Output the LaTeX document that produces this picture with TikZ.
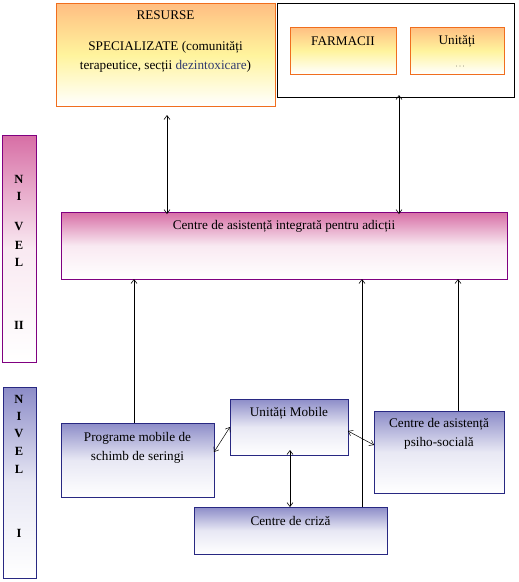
\documentclass[tikz,border=0pt]{standalone}
\usepackage{fontspec}
\setmainfont{Liberation Serif}
\usetikzlibrary{arrows.meta,calc}
\definecolor{oborder}{RGB}{240,110,30}
\definecolor{otop}{RGB}{255,190,130}
\definecolor{pborder}{RGB}{128,0,128}
\definecolor{ptop}{RGB}{215,110,165}
\definecolor{bborder}{RGB}{40,40,130}
\definecolor{btop}{RGB}{140,140,200}
\definecolor{dblue}{RGB}{50,60,110}
\begin{document}
\begin{tikzpicture}[x=1pt,y=-1pt,
  every node/.style={inner sep=0pt,outer sep=0pt},
  obox/.style={draw=oborder,line width=1pt,top color=otop,bottom color=white,middle color=white!75!otop!70!yellow,rectangle},
  pbox/.style={draw=pborder,line width=1pt,top color=ptop,bottom color=white,middle color=white!85!ptop,rectangle},
  bbox/.style={draw=bborder,line width=0.8pt,top color=btop,bottom color=white,middle color=white!80!btop,rectangle},
  kbox/.style={draw=black,line width=1pt,fill=white,rectangle},
  txt/.style={font=\fontsize{13.2}{15}\selectfont,align=center},
  lvl/.style={font=\fontsize{12.5}{14}\selectfont\bfseries},
  conn/.style={line width=0.6pt,{Straight Barb[length=4pt,width=6pt]}-{Straight Barb[length=4pt,width=6pt]}},
  up/.style={line width=0.6pt,-{Straight Barb[length=4pt,width=6pt]}}
]
\useasboundingbox (0,0) rectangle (519,582);
% top boxes
\node[obox,minimum width=219pt,minimum height=103pt] (res) at (165.5,54.5) {};
\node[txt] (t1) at (165.5,15) {RESURSE};
\node[txt] (t2) at (165.5,47) {SPECIALIZATE (comunități};
\node[txt] (t3) at (165.5,66) {terapeutice, secții \textcolor{dblue}{dezintoxicare})};
\node[kbox,minimum width=237pt,minimum height=94pt] (big) at (395.5,50) {};
\node[obox,minimum width=106pt,minimum height=47pt] (farm) at (343,50.5) {};
\node[txt] (tf) at (343,41) {FARMACII};
\node[obox,minimum width=94pt,minimum height=47pt] (unit) at (457,50.5) {};
\node[txt] (tu) at (457,41) {Unități};
\node[font=\fontsize{6}{6}\selectfont] (tud) at (460,67) {· · ·};
% centre
\node[pbox,minimum width=446pt,minimum height=67pt] (cen) at (284,245.5) {};
\node[txt] (tc) at (284,226) {Centre de asistență integrată pentru adicții};
% level boxes
\node[pbox,minimum width=34pt,minimum height=227pt] (n2) at (19,248.5) {};
\node[lvl] (n2a) at (19,179) {N};
\node[lvl] (n2b) at (19,196) {I};
\node[lvl] (n2c) at (19,226) {V};
\node[lvl] (n2d) at (19,245) {E};
\node[lvl] (n2e) at (19,262) {L};
\node[lvl] (n2f) at (19,325) {II};
\node[bbox,minimum width=33pt,minimum height=191pt] (n1) at (19.5,482.5) {};
\node[lvl] (n1a) at (19,399) {N};
\node[lvl] (n1b) at (19,416) {I};
\node[lvl] (n1c) at (19,433) {V};
\node[lvl] (n1d) at (19,451) {E};
\node[lvl] (n1e) at (19,469) {L};
\node[lvl] (n1f) at (19,533) {I};
% bottom boxes
\node[bbox,minimum width=153pt,minimum height=74pt] (prog) at (137.5,460) {};
\node[txt] (tp1) at (137.5,438) {Programe mobile de};
\node[txt] (tp2) at (137.5,457) {schimb de seringi};
\node[bbox,minimum width=118pt,minimum height=56pt] (mob) at (289,427) {};
\node[txt] (tm) at (289,413) {Unități Mobile};
\node[bbox,minimum width=130pt,minimum height=82pt] (psi) at (439,452) {};
\node[txt] (ts1) at (439,424) {Centre de asistență};
\node[txt] (ts2) at (439,443) {psiho-socială};
\node[bbox,minimum width=193pt,minimum height=47pt] (cri) at (290.5,530.5) {};
\node[txt] (tcr) at (290.5,521) {Centre de criză};
% connectors
\draw[conn] ([xshift=1.5pt,yshift=-9pt]res.south) -- ([xshift=1.5pt,yshift=-2pt]res.south |- cen.north);
\draw[conn] ([xshift=3.5pt,yshift=2pt]big.south) -- ([xshift=3.5pt,yshift=-2pt]big.south |- cen.north);
\draw[up] ([xshift=-3.5pt]prog.north) -- ([xshift=-3.5pt]prog.north |- cen.south);
\draw[up] ([xshift=-25pt]cri.north east) -- ([xshift=-25pt]cri.north east |- cen.south);
\draw[up] ([xshift=19pt]psi.north) -- ([xshift=19pt]psi.north |- cen.south);
\draw[conn,line width=0.5pt] ([yshift=8pt]prog.east) -- (mob.west);
\draw[conn,line width=0.5pt] ([yshift=-4pt]mob.east) -- ([yshift=7pt]psi.west);
\draw[conn] ([xshift=1pt,yshift=5pt]mob.south) -- ([xshift=-0.5pt]cri.north);
\end{tikzpicture}
\end{document}
